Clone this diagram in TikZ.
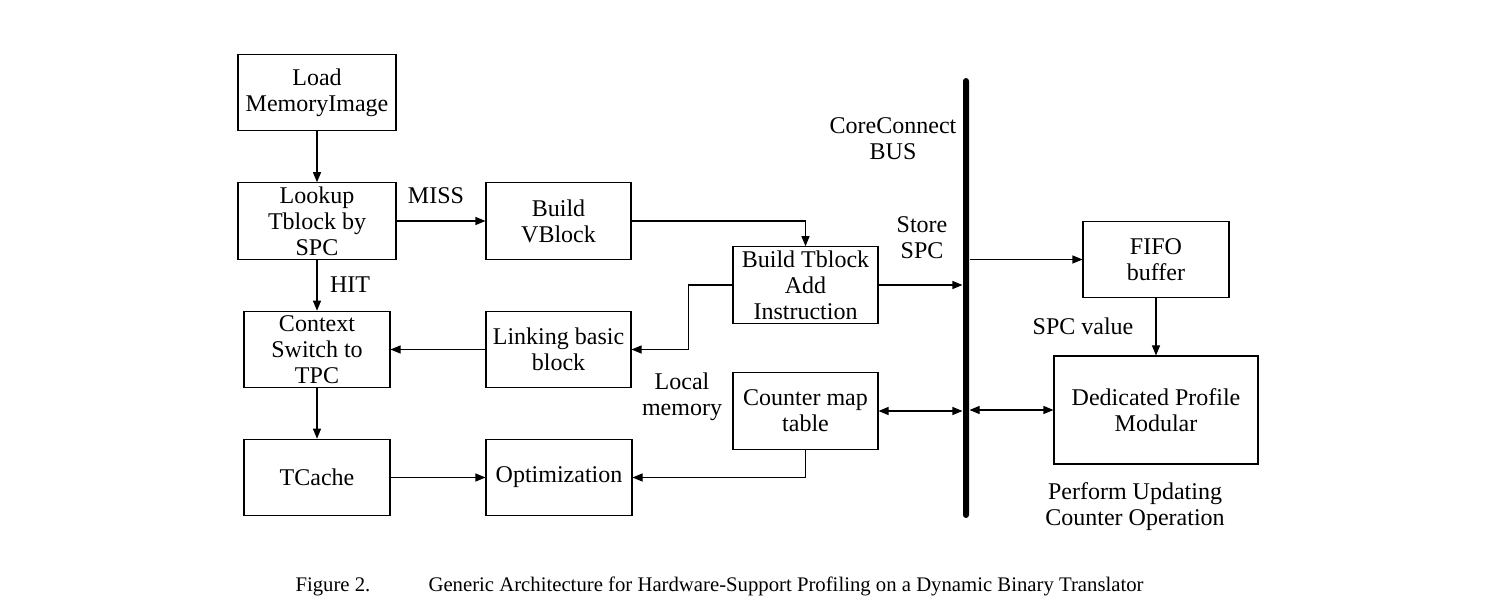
\documentclass[tikz,border=0pt]{standalone}
\usepackage{fontspec}
\setmainfont{Liberation Serif}
\usetikzlibrary{arrows.meta}
\tikzset{blk/.style={draw,line width=0.6pt,minimum width=2.9cm,minimum height=1.53cm,align=center,inner sep=0pt},
  lbl/.style={align=center,inner sep=0pt}}

\begin{document}
\begin{tikzpicture}[>={Triangle[length=0.2cm,width=0.16cm]},line width=0.6pt,
  font=\fontsize{13.66}{14.8}\selectfont]
\useasboundingbox (0,0) rectangle (29.96,12.24);
\node[blk,minimum width=3.16cm] (load) at (6.34,10.39) {Load\\MemoryImage};
\node[blk,minimum width=3.16cm] (lookup) at (6.34,7.82) {Lookup\\Tblock by\\SPC};
\node[blk] (vblock) at (11.17,7.82) {Build\\VBlock};
\node[blk] (tblock) at (16.11,6.54) {Build Tblock\\Add\\Instruction};
\node[blk,minimum width=2.92cm] (context) at (6.34,5.25) {Context\\Switch to\\TPC};
\node[blk] (linking) at (11.17,5.25) {Linking basic\\block};
\node[blk] (counter) at (16.11,4.02) {Counter map\\table};
\node[blk,minimum width=2.92cm] (tcache) at (6.34,2.69) {TCache};
\node[blk,minimum width=2.92cm] (optim) at (11.18,2.69) {Optimization\strut};
\node[blk,minimum width=2.92cm] (fifo) at (23.12,7.05) {FIFO\\buffer};
\node[blk,minimum width=4.08cm,minimum height=2.16cm] (profile) at (23.12,4.04) {Dedicated Profile\\Modular};
\node[fill=black,inner sep=0pt,minimum width=0.12cm,minimum height=8.8cm,rounded corners=0.06cm] (bus) at (19.32,6.28) {}; % bus
% labels
\node[lbl] (miss) at (8.72,8.32) {MISS};
\node[lbl] (hit) at (7.0,6.54) {HIT};
\node[lbl] (busname) at (17.86,9.46) {CoreConnect\\BUS};
\node[lbl] (store) at (18.44,7.48) {Store\\SPC};
\node[lbl] (spcval) at (21.66,5.72) {SPC value};
\node[lbl] (localmem) at (13.64,4.3) {Local\\memory};
\node[lbl] (perform) at (22.7,2.1) {Perform Updating\\Counter Operation};
\node[anchor=base west,inner sep=0pt,font=\fontsize{11.8}{13}\selectfont] (fig) at (5.9,0.4) {Figure 2.};
\node[anchor=base west,inner sep=0pt,font=\fontsize{11.8}{13}\selectfont] (caption) at (8.56,0.4) {Generic Architecture for Hardware-Support Profiling on a Dynamic Binary Translator};
% connectors
\draw[->] (load) -- (lookup);
\draw[->] (lookup) -- (vblock);
\draw[->] (lookup) -- (context);
\draw[->] (vblock.east) -| (tblock.north);
\draw[->] (tblock.east) -- (tblock.east -| bus.west);
\draw[->] (tblock.west) -- ++(-0.88,0) |- (linking.east);
\draw[->] (linking) -- (context);
\draw[->] (context) -- (tcache);
\draw[->] (tcache) -- (optim);
\draw[->] (counter.south) |- (optim.east);
\draw[<->] (counter.east) -- (counter.east -| bus.west);
\draw[->] (bus.east |- fifo.west) -- (fifo.west);
\draw[->] (fifo) -- (profile);
\draw[<->] (bus.east |- profile.west) -- (profile.west);
\end{tikzpicture}
\end{document}
